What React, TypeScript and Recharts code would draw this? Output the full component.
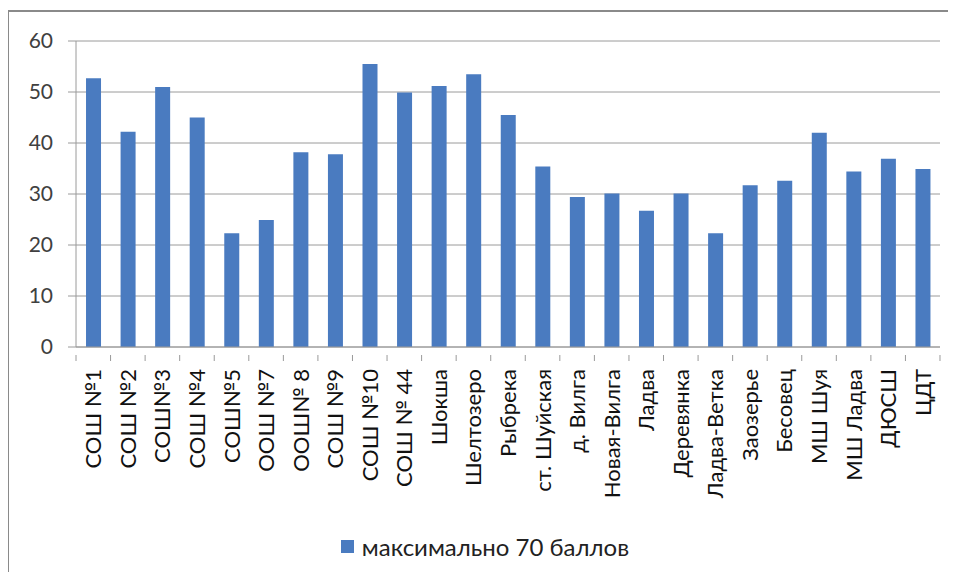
import { BarChart, Bar, XAxis, YAxis, CartesianGrid, Legend } from 'recharts';

const schools = [
  'СОШ №1', 'СОШ №2', 'СОШ№3', 'СОШ №4', 'СОШ№5', 'ООШ №7', 'ООШ№ 8', 'СОШ №9',
  'СОШ №10', 'СОШ № 44', 'Шокша', 'Шелтозеро', 'Рыбрека', 'ст. Шуйская', 'д. Вилга',
  'Новая-Вилга', 'Ладва', 'Деревянка', 'Ладва-Ветка', 'Заозерье', 'Бесовец', 'МШ Шуя',
  'МШ Ладва', 'ДЮСШ', 'ЦДТ',
];
const scores = [
  52.7, 42.2, 51.0, 45.0, 22.3, 24.9, 38.2, 37.8, 55.5, 49.9, 51.2, 53.5, 45.5,
  35.4, 29.4, 30.1, 26.7, 30.1, 22.3, 31.7, 32.6, 42.0, 34.4, 36.9, 34.9,
];
const yTicks = [0, 10, 20, 30, 40, 50, 60];
const seriesName = 'максимально 70 баллов';

const data = schools.map((name, i) => ({ name, value: scores[i] }));

const W = 956;
const H = 580;
const PLOT_LEFT = 76;
const PLOT_RIGHT = 940;
const BAND = (PLOT_RIGHT - PLOT_LEFT) / schools.length;
const FONT = 'Lato, "Open Sans", sans-serif';
const BLUE = '#4a7bc0';
const GRID = '#9a9a9a';

// category ticks sit between bars, like the Excel original
function SchoolTick(props: any) {
  const { x, y, payload, index } = props;
  const last = index === schools.length - 1;
  return (
    <g transform={`translate(${x},${y})`}>
      <line x1={-BAND / 2} y1={0} x2={-BAND / 2} y2={6} stroke={GRID} />
      {last && <line x1={BAND / 2} y1={0} x2={BAND / 2} y2={6} stroke={GRID} />}
      <text
        transform="rotate(-90)"
        x={-14}
        y={0}
        dy={8}
        textAnchor="end"
        fontSize={22}
        fontFamily={FONT}
        fill="#111"
      >
        {payload.value}
      </text>
    </g>
  );
}

function LegendBox() {
  return (
    <div style={{ display: 'flex', justifyContent: 'center', alignItems: 'center', paddingLeft: 30, fontFamily: FONT, fontSize: 24, color: '#222' }}>
      <span style={{ width: 13, height: 13, background: BLUE, display: 'inline-block', marginRight: 8 }} />
      {seriesName}
    </div>
  );
}

export default function App() {
  return (
    <div style={{ position: 'relative', width: W, height: H, margin: -8, background: '#fff' }}>
      <BarChart
        width={W}
        height={H}
        data={data}
        margin={{ top: 41, right: W - PLOT_RIGHT, left: 0, bottom: 18 }}
        barCategoryGap="29%"
        style={{ position: 'absolute', left: 0, top: 0 }}
      >
        <CartesianGrid vertical={false} stroke={GRID} />
        <XAxis
          dataKey="name"
          interval={0}
          height={185}
          axisLine={{ stroke: GRID }}
          tickLine={false}
          tick={<SchoolTick />}
        />
        <YAxis
          width={PLOT_LEFT}
          domain={[0, 60]}
          ticks={yTicks}
          axisLine={{ stroke: GRID }}
          tickLine={{ stroke: GRID }}
          tickSize={8}
          tickMargin={15}
          tick={{ fontSize: 21, fontFamily: FONT, fill: '#404040' }}
        />
        <Legend verticalAlign="bottom" height={30} content={<LegendBox />} />
        <Bar dataKey="value" name={seriesName} fill={BLUE} isAnimationActive={false} />
      </BarChart>
      <div
        style={{
          position: 'absolute',
          left: 7,
          top: 10,
          width: 946,
          height: 566,
          zIndex: 5,
          pointerEvents: 'none',
          borderTop: '2px solid #8a8a8a',
          borderLeft: '2px solid #8a8a8a',
          borderRight: '1px solid #e6e6e6',
          borderBottom: '1px solid #e6e6e6',
        }}
      />
    </div>
  );
}
